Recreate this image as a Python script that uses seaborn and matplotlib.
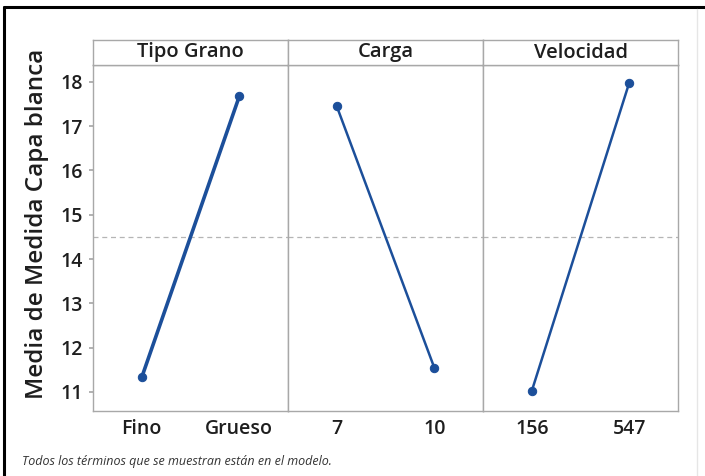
import matplotlib
matplotlib.use("Agg")
import matplotlib.pyplot as plt
from matplotlib.lines import Line2D
import seaborn as sns
import pandas as pd

sns.set_theme(style="white")
plt.rcParams["font.family"] = ["Open Sans", "DejaVu Sans"]

# Main-effects data: factor, level labels, fitted means
factors = ["Tipo Grano", "Carga", "Velocidad"]
levels = [["Fino", "Grueso"], ["7", "10"], ["156", "547"]]
means = [[11.33, 17.67], [17.45, 11.55], [11.02, 17.98]]
grand_mean = 14.5
y_ticks = [11, 12, 13, 14, 15, 16, 17, 18]
y_label = "Media de Medida Capa blanca"
footnote = "Todos los términos que se muestran están en el modelo."

line_color = "#1c4f9a"
frame_gray = "#a8a8a8"
text_color = "#1e1e1e"
line_widths = [2.6, 1.8, 1.8]

W, H = 705, 476
fig = plt.figure(figsize=(W / 100, H / 100), dpi=100)

left_px, right_px = 93, 678
top_px, bottom_px = 65, 411
strip_top_px = 40
panel_w = (right_px - left_px) / 3

axes = []
for i, (fac, lv, mv) in enumerate(zip(factors, levels, means)):
    x0 = (left_px + i * panel_w) / W
    ax = fig.add_axes([x0, 1 - bottom_px / H, panel_w / W, (bottom_px - top_px) / H],
                      sharey=axes[0] if axes else None)
    df = pd.DataFrame({"pos": [0, 1], "media": mv})
    sns.lineplot(data=df, x="pos", y="media", ax=ax, color=line_color,
                 linewidth=line_widths[i], marker="o", markersize=6,
                 markeredgecolor=line_color, markerfacecolor=line_color)
    ax.axhline(grand_mean, color="#b5b5b5", linestyle=(0, (4, 3)), linewidth=0.9, zorder=0)
    ax.set_xlim(-0.5, 1.5)
    ax.set_ylim(10.57, 18.38)
    ax.set_xticks([0, 1])
    ax.set_xticklabels(lv, fontweight="semibold")
    ax.set_xlabel("")
    ax.set_ylabel("")
    ax.tick_params(axis="x", length=0, pad=6, labelsize=14, labelcolor=text_color)
    for s in ax.spines.values():
        s.set_color(frame_gray)
        s.set_linewidth(1.0)
    if i == 0:
        ax.set_yticks(y_ticks)
        ax.set_yticklabels([str(t) for t in y_ticks], fontweight="semibold")
        ax.tick_params(axis="y", length=3, color=frame_gray, pad=4,
                       labelsize=14, labelcolor=text_color, left=True)
        ax.set_ylabel(y_label, fontsize=17.5, fontweight="semibold", color=text_color)
        ax.yaxis.set_label_coords(-0.225, 0.54)
    else:
        ax.tick_params(axis="y", left=False, labelleft=False)
    axes.append(ax)

    # facet strip above each panel
    sax = fig.add_axes([x0, 1 - top_px / H, panel_w / W, (top_px - strip_top_px) / H])
    sax.set_xticks([])
    sax.set_yticks([])
    sax.set_facecolor("white")
    for s in sax.spines.values():
        s.set_color(frame_gray)
        s.set_linewidth(1.0)
    sax.text(0.5, 0.5, fac, ha="center", va="center", fontsize=14.5,
             fontweight="semibold", color=text_color, transform=sax.transAxes)

fig.text(22 / W, 1 - 461 / H, footnote, fontsize=9, style="italic",
         color="#333333", ha="left", va="center")

# outer frame of the figure area
fig.add_artist(Line2D([4 / W, 4 / W], [0, 1 - 7 / H], color="black", linewidth=2.2,
                      transform=fig.transFigure))
fig.add_artist(Line2D([4 / W, 1], [1 - 7 / H, 1 - 7 / H], color="black", linewidth=2.2,
                      transform=fig.transFigure))
fig.add_artist(Line2D([697 / W, 697 / W], [0, 1 - 9 / H], color="#e6e6e6", linewidth=1.0,
                      transform=fig.transFigure))

fig.savefig("out.png", dpi=100)
